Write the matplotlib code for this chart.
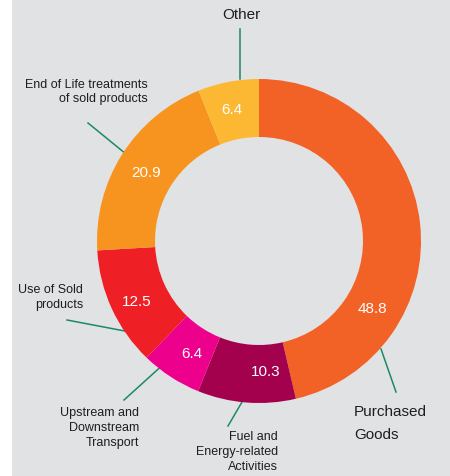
import matplotlib
matplotlib.use("Agg")
import matplotlib.pyplot as plt
from matplotlib.patches import Rectangle

plt.rcParams['font.family'] = ['Liberation Sans', 'DejaVu Sans']

categories = ["Purchased\nGoods", "Fuel and\nEnergy-related\nActivities",
              "Upstream and\nDownstream\nTransport", "Use of Sold\nproducts",
              "End of Life treatments\nof sold products", "Other"]
values = [48.8, 10.3, 6.4, 12.5, 20.9, 6.4]
value_labels = ["48.8", "10.3", "6.4", "12.5", "20.9", "6.4"]
colors = ["#F26125", "#A3004D", "#EC008C", "#EE1F25", "#F7941F", "#FDB833"]

W, H = 450, 477
fig = plt.figure(figsize=(W / 100, H / 100), dpi=100, facecolor="white")
ax = fig.add_axes([0, 0, 1, 1])

def Y(y):
    return H - y

ax.add_patch(Rectangle((12, 0), W - 12, H, facecolor="#E1E2E4", edgecolor="none", zorder=0))

cx, cy, R, wid = 259, Y(242), 162, 58
wedges, _ = ax.pie(values, colors=colors, startangle=90, counterclock=False,
                   center=(cx, cy), radius=R,
                   wedgeprops=dict(width=wid, linewidth=0))
for w in wedges:
    w.set_zorder(2)

# value labels (positions in px)
val_pos = [(372, 309), (266, 372), (192, 354), (137, 302), (146, 173), (232, 110)]
for lab, (x, y) in zip(value_labels, val_pos):
    ax.text(x, Y(y), lab, color="white", fontsize=11, ha="center", va="center", zorder=3)

line_color = "#1B8A63"
leaders = [((396, 393), (381, 350)),
           ((228, 427), (242, 403)),
           ((124, 401), (166, 363)),
           ((67, 321), (130, 333)),
           ((88, 124), (126, 155)),
           ((240, 30), (240, 80))]
for (x0, y0), (x1, y1) in leaders:
    ax.plot([x0, x1], [Y(y0), Y(y1)], color=line_color, lw=1.1, zorder=1.5)

tc = "#1E1E1E"
# category labels
ax.text(354, Y(412), "Purchased", fontsize=11, ha="left", va="center", color=tc)
ax.text(354, Y(435), "Goods", fontsize=11, ha="left", va="center", color=tc)
ax.text(278, Y(452), categories[1], fontsize=9, ha="right", va="center",
        multialignment="right", linespacing=1.3, color=tc)
ax.text(139, Y(428), categories[2], fontsize=9, ha="right", va="center",
        multialignment="right", linespacing=1.3, color=tc)
ax.text(83, Y(297.5), categories[3], fontsize=9, ha="right", va="center",
        multialignment="right", linespacing=1.3, color=tc)
ax.text(148, Y(92), categories[4], fontsize=9, ha="right", va="center",
        multialignment="right", linespacing=1.3, color=tc)
ax.text(241, Y(15), categories[5], fontsize=11, ha="center", va="center", color=tc)

ax.set_xlim(0, W)
ax.set_ylim(0, H)
ax.set_aspect("auto")
ax.axis("off")

fig.savefig("out.png", dpi=100, facecolor="white")
